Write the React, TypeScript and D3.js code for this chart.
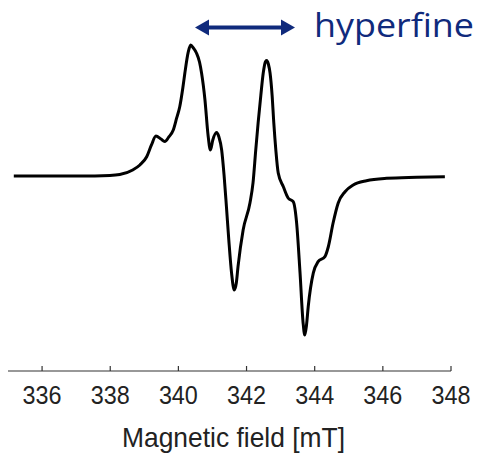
import React from "react";
import * as d3 from "d3";

const fieldMT = [
  335.17, 337.11, 337.99, 338.28, 338.66, 338.87, 339.07, 339.21, 339.34, 339.49,
  339.6, 339.72, 339.85, 339.95, 340.04, 340.13, 340.19, 340.29, 340.36, 340.44,
  340.53, 340.62, 340.68, 340.78, 340.87, 340.94, 341.01, 341.12, 341.19, 341.27,
  341.34, 341.41, 341.48, 341.56, 341.64, 341.7, 341.75, 341.9, 342.1, 342.19,
  342.27, 342.34, 342.42, 342.49, 342.55, 342.59, 342.64, 342.69, 342.75, 342.8,
  342.86, 342.93, 343.08, 343.22, 343.37, 343.47, 343.57, 343.66, 343.71, 343.76,
  343.81, 343.96, 344.1, 344.3, 344.4, 344.54, 344.69, 344.89, 345.13, 345.52,
  346.11, 346.99, 347.82,
];
const signal = [
  0, 0, 0.004, 0.011, 0.046, 0.084, 0.147, 0.237, 0.305, 0.282,
  0.263, 0.298, 0.351, 0.443, 0.529, 0.672, 0.786, 0.947, 1.0, 0.977,
  0.939, 0.87, 0.786, 0.58, 0.313, 0.198, 0.275, 0.332, 0.298, 0.198,
  0.008, -0.234, -0.489, -0.74, -0.87, -0.817, -0.692, -0.412, -0.206, -0.053,
  0.198, 0.405, 0.618, 0.786, 0.87, 0.882, 0.855, 0.786, 0.618, 0.405,
  0.198, 0.023, -0.082, -0.168, -0.196, -0.359, -0.74, -1.122, -1.214, -1.137,
  -0.998, -0.74, -0.654, -0.615, -0.54, -0.359, -0.206, -0.12, -0.069, -0.036,
  -0.018, -0.01, -0.005,
];
const tickValues = [336, 338, 340, 342, 344, 346, 348];
const xLabel = "Magnetic field [mT]";
const annotation = "hyperfine";

export default function App() {
  const W = 481;
  const H = 457;
  const x = d3.scaleLinear().domain([335, 348]).range([8, 451]);
  const y = d3.scaleLinear().domain([0, 1]).range([176, 45]);
  const axisY = 371;

  const pts = fieldMT.map((f, i) => [f, signal[i]] as [number, number]);
  const line = d3
    .line<[number, number]>()
    .x((d) => x(d[0]))
    .y((d) => y(d[1]))
    .curve(d3.curveMonotoneX);

  const navy = "#102a7c";
  const ax1 = 195;
  const ax2 = 295;
  const ay = 27.5;

  return (
    <svg
      width={W}
      height={H}
      style={{ position: "absolute", left: 0, top: 0, background: "#fff" }}
    >
      <path d={line(pts) || ""} fill="none" stroke="#000" strokeWidth={3} strokeLinejoin="round" />

      {/* axis */}
      <line x1={x(335)} x2={x(348)} y1={axisY} y2={axisY} stroke="#333" strokeWidth={1.2} />
      {tickValues.map((t) => (
        <g key={t}>
          <line x1={x(t)} x2={x(t)} y1={axisY} y2={axisY - 5} stroke="#333" strokeWidth={1.2} />
          <text
            x={x(t)}
            y={403.5}
            textAnchor="middle"
            fontFamily="'Liberation Sans', Arial, sans-serif"
            fontSize={25}
            fill="#222"
            textLength={39}
            lengthAdjust="spacingAndGlyphs"
          >
            {t}
          </text>
        </g>
      ))}
      <text
        x={233.5}
        y={446.5}
        textAnchor="middle"
        fontFamily="'Liberation Sans', Arial, sans-serif"
        fontSize={28}
        fill="#222"
        textLength={223}
        lengthAdjust="spacingAndGlyphs"
      >
        {xLabel}
      </text>

      {/* hyperfine arrow */}
      <line x1={ax1 + 12} x2={ax2 - 12} y1={ay} y2={ay} stroke={navy} strokeWidth={4} />
      <path d={`M${ax1},${ay} L${ax1 + 14},${ay - 8} L${ax1 + 14},${ay + 8} Z`} fill={navy} />
      <path d={`M${ax2},${ay} L${ax2 - 14},${ay - 8} L${ax2 - 14},${ay + 8} Z`} fill={navy} />
      <text
        x={314}
        y={36.5}
        fontFamily="'Open Sans', 'Noto Sans', sans-serif"
        fontSize={33}
        fill={navy}
        textLength={160}
        lengthAdjust="spacingAndGlyphs"
      >
        {annotation}
      </text>
    </svg>
  );
}
